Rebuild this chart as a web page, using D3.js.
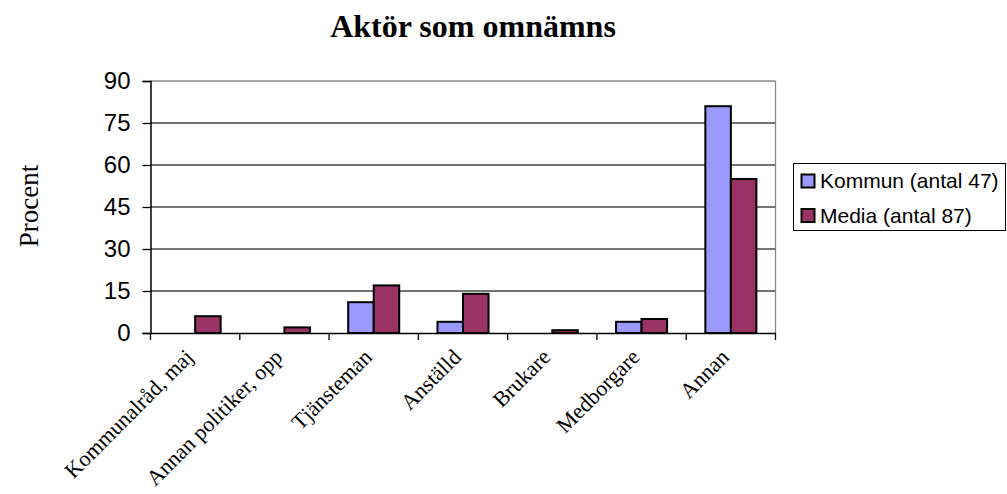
<!DOCTYPE html>
<html><head><meta charset="utf-8">
<script src="https://cdn.jsdelivr.net/npm/d3@7"></script>
<style>body{margin:0;background:#fff;}svg{display:block;}</style>
</head><body>
<svg id="c" width="1007" height="494"></svg>
<script>
const categories = ["Kommunalråd, maj","Annan politiker, opp","Tjänsteman","Anställd","Brukare","Medborgare","Annan"];
const seriesNames = ["Kommun (antal 47)","Media (antal 87)"];
const kommun = [0,0,11,4,0,4,81];
const media = [6,2,17,14,1,5,55];
const yTicks = [0,15,30,45,60,75,90];
const colors = ["#9999FF","#993366"];
const title = "Aktör som omnämns";
const yLabel = "Procent";

const svg = d3.select("#c");
const L=150.5, R=775.5, T=81, B=333;
const x = d3.scaleBand().domain(categories).range([L,R]).paddingInner(0).paddingOuter(0);
const y = d3.scaleLinear().domain([0,90]).range([B,T]);
const bw = x.bandwidth()/3.5;

// gridlines
svg.append("g").selectAll("line").data(yTicks.filter(d=>d>0)).join("line")
  .attr("x1",L).attr("x2",R).attr("y1",d=>y(d)).attr("y2",d=>y(d))
  .attr("stroke",d=>d===90?"#888":"#444").attr("stroke-width",1.3);
// right border
svg.append("line").attr("x1",R).attr("x2",R).attr("y1",T).attr("y2",B).attr("stroke","#888").attr("stroke-width",1.3);

// bars
const data = [kommun, media];
data.forEach((vals,si)=>{
  svg.append("g").selectAll("rect").data(vals.map((v,i)=>({c:categories[i],v})).filter(d=>d.v>0)).join("rect")
    .attr("x",d=>x(d.c)+x.bandwidth()/2-bw+si*bw)
    .attr("y",d=>y(d.v)).attr("width",bw).attr("height",d=>y(0)-y(d.v))
    .attr("fill",colors[si]).attr("stroke","#000").attr("stroke-width",2);
});

// y axis
const ya = svg.append("g").attr("transform",`translate(${L},0)`)
  .call(d3.axisLeft(y).tickValues(yTicks).tickSize(8).tickPadding(12));
ya.select(".domain").attr("stroke","#000").attr("stroke-width",1.5);
ya.selectAll(".tick line").attr("stroke","#000").attr("stroke-width",1.3);
ya.selectAll("text").attr("font-family","Liberation Sans, Arial, sans-serif").attr("font-size",24).attr("fill","#000");

// x axis
const xa = svg.append("g").attr("transform",`translate(0,${B})`)
  .call(d3.axisBottom(x).tickSize(0).tickFormat(""));
xa.select(".domain").attr("stroke","#000").attr("stroke-width",1.5);
const bounds = categories.map(c=>x(c)).concat([R]);
xa.selectAll(".sep").data(bounds).join("line").attr("class","sep")
  .attr("x1",d=>d).attr("x2",d=>d).attr("y1",0).attr("y2",7).attr("stroke","#000").attr("stroke-width",1.3);

// category labels
svg.append("g").selectAll("text").data(categories).join("text")
  .attr("transform",d=>`translate(${x(d)+x.bandwidth()/2-6},${B+20}) rotate(-45)`)
  .attr("text-anchor","end").attr("dy","0.35em")
  .attr("font-family","Liberation Serif, Times New Roman, serif").attr("font-size",22).attr("fill","#000")
  .text(d=>d);

// title
svg.append("text").attr("x",473).attr("y",37).attr("text-anchor","middle")
  .attr("font-family","Liberation Serif, Times New Roman, serif").attr("font-weight","bold").attr("font-size",32)
  .text(title);

// y label
svg.append("text").attr("transform","translate(38,206) rotate(-90)").attr("text-anchor","middle")
  .attr("font-family","Liberation Serif, Times New Roman, serif").attr("font-size",27)
  .text(yLabel);

// legend
const lg = svg.append("g");
lg.append("rect").attr("x",793.5).attr("y",163.5).attr("width",212).attr("height",67)
  .attr("fill","#fff").attr("stroke","#000").attr("stroke-width",1);
seriesNames.forEach((n,i)=>{
  const cy = 180.5+i*34.5;
  lg.append("rect").attr("x",801.5).attr("y",cy-6).attr("width",13).attr("height",13)
    .attr("fill",colors[i]).attr("stroke","#000").attr("stroke-width",2);
  lg.append("text").attr("x",820).attr("y",cy+7.5).attr("font-family","Liberation Sans, Arial, sans-serif")
    .attr("font-size",21).text(n);
});
</script>
</body></html>
